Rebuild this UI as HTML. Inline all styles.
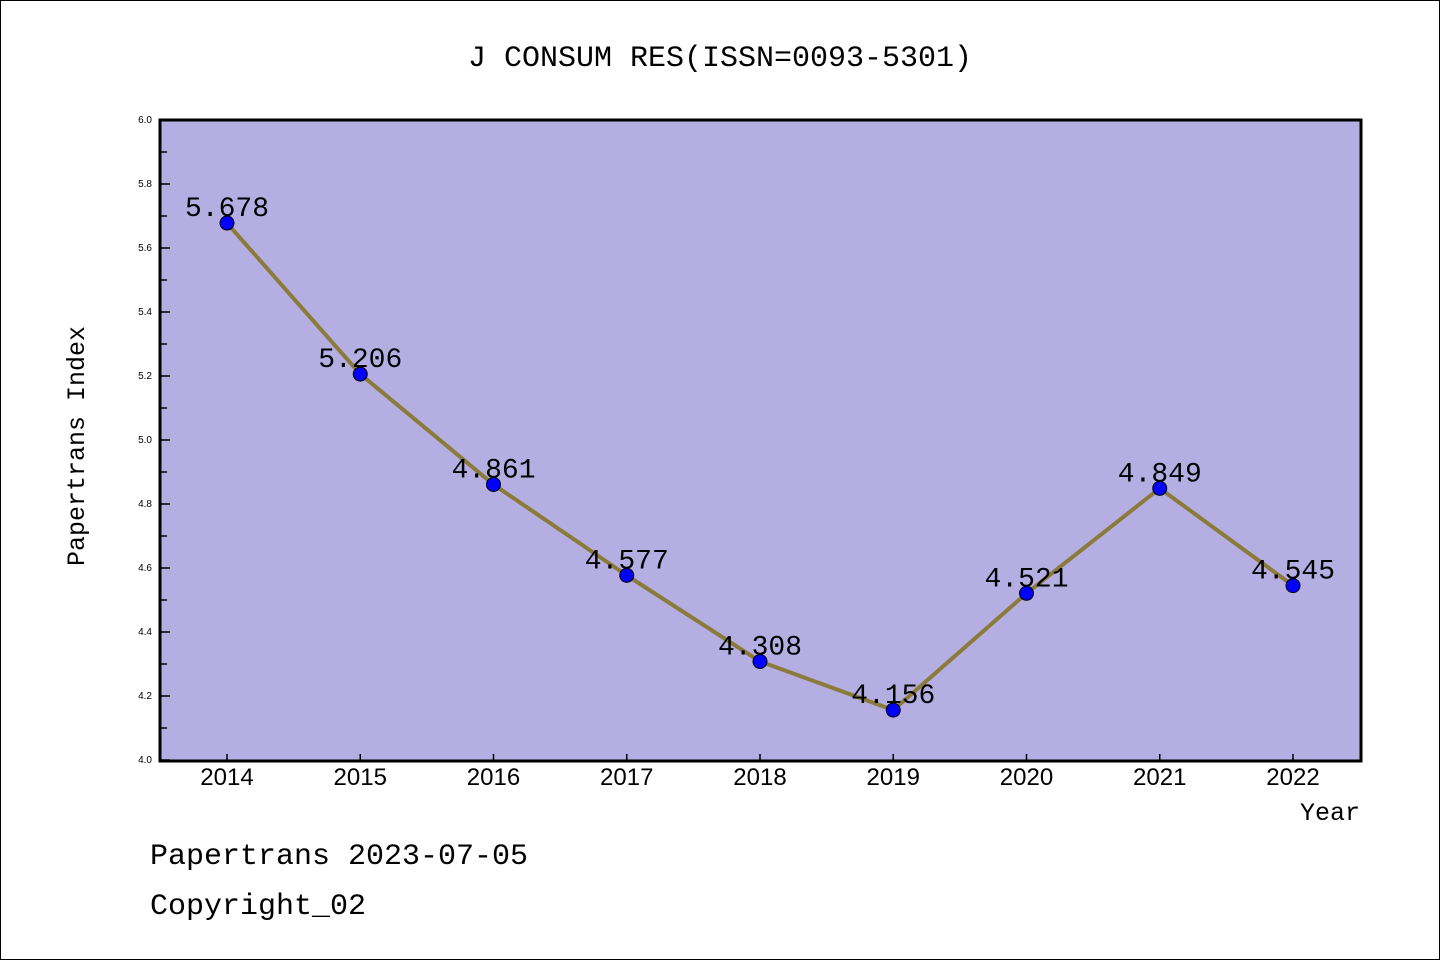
<!DOCTYPE html>
<html><head><meta charset="utf-8"><style>
body{margin:0;background:#fff}
svg{display:block}
text{font-family:"Liberation Mono","DejaVu Sans Mono",monospace}
</style></head><body>
<svg id="chart" width="1440" height="960" xmlns="http://www.w3.org/2000/svg">
<rect x="0.5" y="0.5" width="1439" height="959" fill="#fff" stroke="#000"/>
<text x="720" y="66" font-size="30" text-anchor="middle">J CONSUM RES(ISSN=0093-5301)</text>
<rect x="160" y="120" width="1201" height="641" fill="#b5aee3"/>
<g id="yt"></g>
<g id="xt"></g>
<g id="series"></g>
<rect x="160" y="120" width="1201" height="641" fill="none" stroke="#000" stroke-width="3"/>
<text transform="translate(84,446) rotate(-90)" font-size="25" text-anchor="middle">Papertrans Index</text>
<text x="1360" y="820" font-size="25" text-anchor="end">Year</text>
<text x="150" y="864" font-size="30">Papertrans 2023-07-05</text>
<text x="150" y="914" font-size="30">Copyright_02</text>
</svg>
<script>
const years=["2014","2015","2016","2017","2018","2019","2020","2021","2022"];
const values=[5.678,5.206,4.861,4.577,4.308,4.156,4.521,4.849,4.545];
const valueLabels=["5.678","5.206","4.861","4.577","4.308","4.156","4.521","4.849","4.545"];
const yTicks=["4.0","4.2","4.4","4.6","4.8","5.0","5.2","5.4","5.6","5.8","6.0"];
const NS="http://www.w3.org/2000/svg";
const yMin=4,yMax=6,plotTop=120,plotBot=760,x0=227,x1=1293;
const ys=v=>plotBot-(v-yMin)/(yMax-yMin)*(plotBot-plotTop);
const xs=i=>x0+i*(x1-x0)/(years.length-1);
function mk(tag,attrs,parent){const e=document.createElementNS(NS,tag);for(const k in attrs)e.setAttribute(k,attrs[k]);parent.appendChild(e);return e;}
const yt=document.getElementById('yt'),xt=document.getElementById('xt'),sg=document.getElementById('series');
yTicks.forEach((t,i)=>{const v=parseFloat(t),y=ys(v);
 const l=mk('line',{x1:160,x2:170,y1:y,y2:y,stroke:'#000','stroke-width':1.5},yt);
 
 
 const tx=mk('text',{x:152,y:y+3,'font-size':10,'text-anchor':'end',style:'font-family:"Liberation Sans",sans-serif'},yt);tx.textContent=t;
 
 
 if(i<yTicks.length-1){const ym=ys(v+0.1);const m=mk('line',{x1:160,x2:167,y1:ym,y2:ym,stroke:'#000','stroke-width':1.5},yt);
 
 }
});
years.forEach((yr,i)=>{const x=xs(i);
 const l=mk('line',{x1:x,x2:x,y1:760,y2:754,stroke:'#000','stroke-width':1.5},xt);
 
 
 const tx=mk('text',{x:x,y:785,'font-size':24,'text-anchor':'middle',style:'font-family:"Liberation Sans",sans-serif'},xt);tx.textContent=yr;
 
 
});
const pts=values.map((v,i)=>xs(i)+','+ys(v)).join(' ');
const pl=mk('polyline',{points:pts,fill:'none',stroke:'#8b7b3a','stroke-width':4},sg);


values.forEach((v,i)=>{
 const c=mk('circle',{cx:xs(i),cy:ys(v),r:7,fill:'#0000ff',stroke:'#000','stroke-width':1},sg);
 
 
 const t=mk('text',{x:xs(i),y:ys(v)-7,'font-size':28,'text-anchor':'middle'},sg);t.textContent=valueLabels[i];
 
 
});
</script>
</body></html>
